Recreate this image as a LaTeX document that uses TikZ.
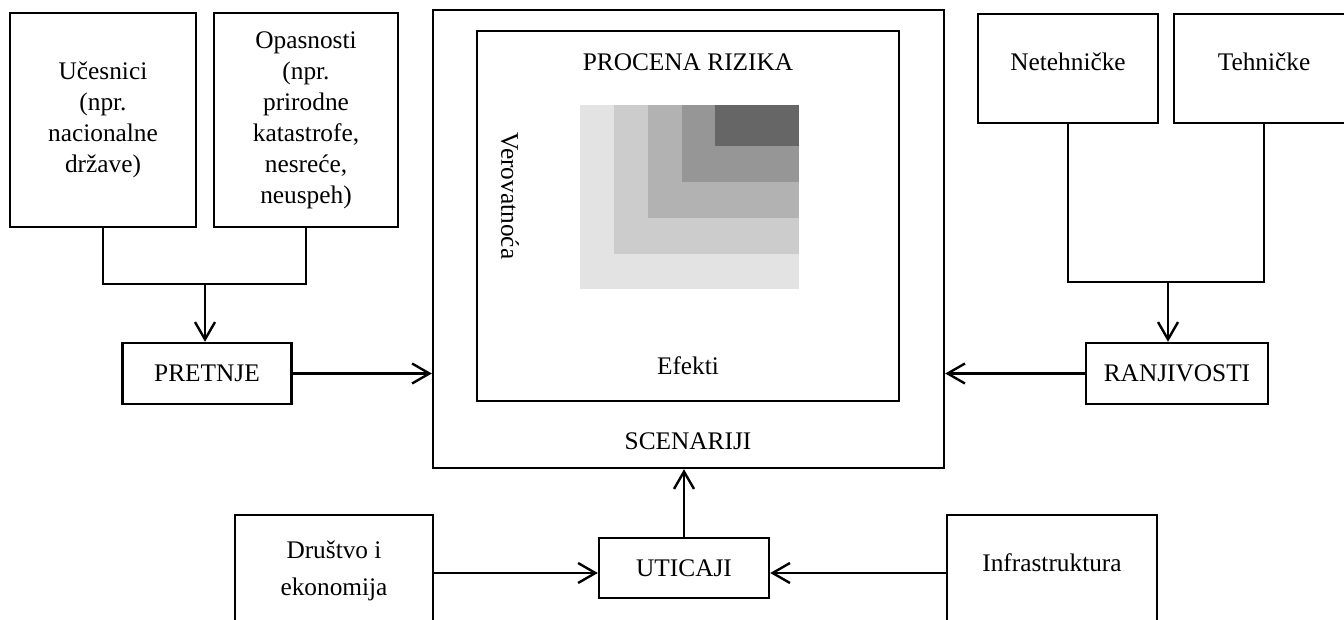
\documentclass[tikz,border=0pt]{standalone}
\usepackage{fontspec}
\setmainfont{Liberation Serif}
\usetikzlibrary{arrows.meta,calc}

\begin{document}
\begin{tikzpicture}[x=0.75pt,y=-0.75pt,
  every node/.style={font=\fontsize{19}{23.25}\selectfont, inner sep=0pt},
  box/.style={draw, line width=1.8pt, rectangle},
  conn/.style={line width=1.8pt},
  arr/.style={line width=1.8pt, -{Straight Barb[length=13pt,width=15pt]}},
]
\useasboundingbox (0,0) rectangle (1344,620);
\clip (0,0) rectangle (1344,620);

% ---- threats branch (left) ----
\node[box, minimum width=139.5pt, minimum height=160.5pt, align=center] (ucesnici) at (103,120)
  {Učesnici\\(npr.\\nacionalne\\države)};
\node[box, minimum width=138pt, minimum height=160.5pt, align=center] (opasnosti) at (306,120)
  {Opasnosti\\(npr.\\prirodne\\katastrofe,\\nesreće,\\neuspeh)};
\coordinate (jl) at (205,284);
\draw[conn] (ucesnici.south) -- (ucesnici.south |- jl) -- (opasnosti.south |- jl) -- (opasnosti.south);
\node[box, minimum width=126.75pt, minimum height=45.75pt] (pretnje) at (207,373.5) {PRETNJE};
\draw[arr] (jl) -- (jl |- pretnje.north);

% ---- scenarios frame with the risk matrix ----
\node[box, minimum width=383.25pt, minimum height=343.5pt] (outer) at (688.5,239) {};
\node[box, minimum width=316.5pt, minimum height=277.5pt] (inner) at (688,216) {};
\fill[black!11] (580,105) rectangle (799,289);
\fill[black!20] (614,105) rectangle (799,254);
\fill[black!30] (648,105) rectangle (799,218);
\fill[black!41] (682,105) rectangle (799,182);
\fill[black!60] (715,105) rectangle (799,146);
\node (procena) at (688,62) {PROCENA RIZIKA};
\node[rotate=-90] (verov) at (510,196) {Verovatnoća};
\node (efekti) at (688,366) {Efekti};
\node (scen) at (688,441) {SCENARIJI};
\draw[arr] (pretnje.east) -- (outer.west |- pretnje.east);

% ---- vulnerabilities branch (right) ----
\node[box, minimum width=135pt, minimum height=81.75pt] (neteh) at (1068,68.5) {};
\node (netehlbl) at (1068,62) {Netehničke};
\node[box, minimum width=135pt, minimum height=81.75pt] (teh) at (1264,68.5) {};
\node (tehlbl) at (1264,62) {Tehničke};
\coordinate (jr) at (1168,282);
\draw[conn] (neteh.south) -- (neteh.south |- jr) -- (teh.south |- jr) -- (teh.south);
\node[box, minimum width=136.5pt, minimum height=45.75pt] (ranj) at (1177,373.5) {RANJIVOSTI};
\draw[arr] (jr) -- (jr |- ranj.north);
\draw[arr] (ranj.west) -- (outer.east |- ranj.west);

% ---- impacts branch (bottom) ----
\node[box, minimum width=148.5pt, minimum height=97.5pt] (drustvo) at (334,580) {};
\node[align=center, font=\fontsize{19}{28}\selectfont] (drustvolbl) at (334,571) {Društvo i\\ekonomija};
\node[box, minimum width=157.5pt, minimum height=97.5pt] (infra) at (1052,580) {};
\node (infralbl) at (1052,563) {Infrastruktura};
\node[box, minimum width=127.5pt, minimum height=45pt] (uticaji) at (684,568) {UTICAJI};
\coordinate (ay) at (0,573);
\draw[arr] (drustvo.east |- ay) -- (uticaji.west |- ay);
\draw[arr] (infra.west |- ay) -- (uticaji.east |- ay);
\draw[arr] (uticaji.north) -- (uticaji.north |- outer.south);
\end{tikzpicture}
\end{document}
